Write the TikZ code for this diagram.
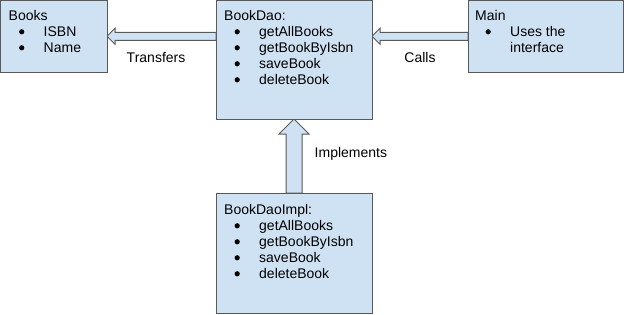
\documentclass[tikz,border=0pt]{standalone}
\usepackage{fontspec}
\setmainfont{Liberation Sans}
\usetikzlibrary{calc,backgrounds}
\definecolor{boxfill}{HTML}{CFE2F3}
\definecolor{boxline}{HTML}{595959}
\newcommand{\itm}[1]{\makebox[35pt][l]{\hspace*{10.4pt}\tikz[baseline=0pt]\fill (2.6pt,4.2pt) circle[radius=2.6pt];}#1}

\begin{document}
\begin{tikzpicture}[x=1pt, y=-1pt,
    every node/.style={font=\fontsize{14}{16}\selectfont},
    box/.style={draw=boxline, fill=boxfill, line width=1pt, inner sep=0pt, outer sep=0pt, anchor=north west},
    boxtext/.style={inner sep=0pt, anchor=base west},
    lbl/.style={inner sep=0pt, anchor=base},
    blockarrow/.style={draw=boxline, fill=boxfill, line width=1pt}]
    \useasboundingbox (0,0) rectangle (624,314);

    % Boxes
    \node[box, minimum width=106.5pt, minimum height=71.5pt] (books) at (0.5,0.5) {};
    \node[box, minimum width=156pt, minimum height=118.5pt] (dao) at (216,0.5) {};
    \node[box, minimum width=155pt, minimum height=71.5pt] (main) at (468,0.5) {};
    \node[box, minimum width=156pt, minimum height=120pt] (impl) at (216,193) {};

    % Box contents
    \node[boxtext] (booksText) at ($(books.north west)+(8,19.5)$)
        {\begin{tabular}[t]{@{}l@{}}Books\\ \itm{ISBN}\\ \itm{Name}\end{tabular}};
    \node[boxtext] (daoText) at ($(dao.north west)+(8,19.5)$)
        {\begin{tabular}[t]{@{}l@{}}BookDao:\\ \itm{getAllBooks}\\ \itm{getBookByIsbn}\\ \itm{saveBook}\\ \itm{deleteBook}\end{tabular}};
    \node[boxtext] (mainText) at ($(main.north west)+(7,19.5)$)
        {\begin{tabular}[t]{@{}l@{}}Main\\ \itm{Uses the}\\ \hspace*{35pt}interface\end{tabular}};
    \node[boxtext] (implText) at ($(impl.north west)+(8,21)$)
        {\begin{tabular}[t]{@{}l@{}}BookDaoImpl:\\ \itm{getAllBooks}\\ \itm{getBookByIsbn}\\ \itm{saveBook}\\ \itm{deleteBook}\end{tabular}};

    % Block arrows
    \begin{scope}[on background layer]
        % BookDao -> Books
        \draw[blockarrow] (books.east) -- ++(8,-8) -- ++(0,4) -- ($(books.east -| dao.west)+(0,-4)$)
            -- ++(0,8) -- ($(books.east)+(8,4)$) -- ++(0,4) -- cycle;
        % Main -> BookDao
        \draw[blockarrow] (main.west -| dao.east) -- ++(8,-8) -- ++(0,4) -- ($(main.west)+(0,-4)$)
            -- ++(0,8) -- ($(main.west -| dao.east)+(8,4)$) -- ++(0,4) -- cycle;
        % BookDaoImpl -> BookDao
        \draw[blockarrow] (dao.south) -- ++(15,15) -- ++(-7,0) -- ($(impl.north)+(8,0)$)
            -- ++(-16,0) -- ($(dao.south)+(-8,15)$) -- ++(-7,0) -- cycle;
    \end{scope}

    % Labels
    \node[lbl] (transfers) at ($(books.east)!0.45!(books.east -| dao.west)+(0,26.5)$) {Transfers};
    \node[lbl] (calls) at ($(main.west -| dao.east)!0.5!(main.west)+(0,26.5)$) {Calls};
    \node[lbl, anchor=base west] (implements) at ($(dao.south)!0.5!(impl.north)+(20.5,1.3)$) {Implements};
\end{tikzpicture}
\end{document}
